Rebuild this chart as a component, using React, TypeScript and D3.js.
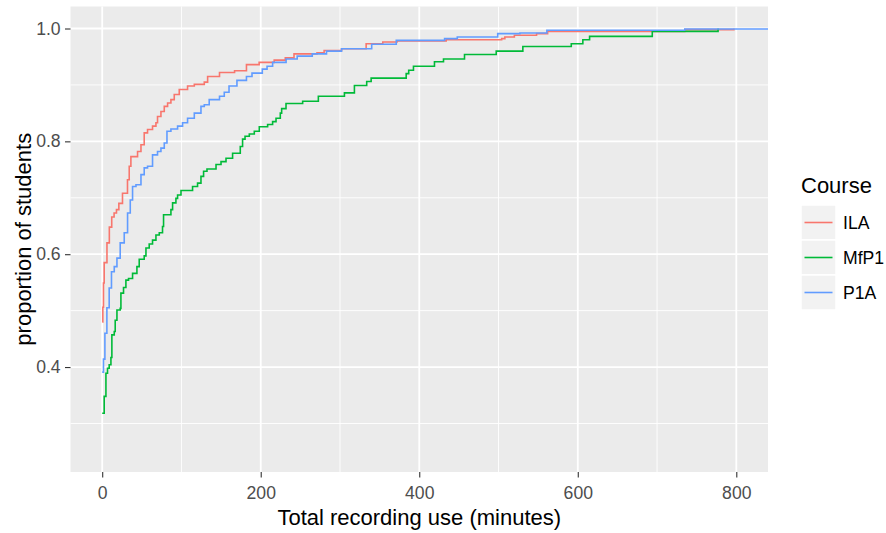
import { useEffect, useRef } from "react";
import * as d3 from "d3";

// ECDF step points: [minutes, proportion]
const courses = ["ILA", "MfP1", "P1A"];

const ilaSteps: [number, number][] = [
  [0, 0.48], [0.8, 0.506], [1.6, 0.549], [2.5, 0.585], [6, 0.62], [9, 0.648], [12, 0.666],
  [15, 0.673], [18, 0.679], [21, 0.69], [25.6, 0.708], [31.9, 0.732], [34.1, 0.756], [36.2, 0.773],
  [44.6, 0.782], [48.9, 0.794], [53, 0.815], [57.2, 0.821], [63.5, 0.827], [67.8, 0.833],
  [69.8, 0.844], [74.1, 0.853], [78.3, 0.862], [82.5, 0.868], [86.7, 0.874], [90.9, 0.883],
  [97.2, 0.892], [107.7, 0.898], [116.2, 0.901], [128.8, 0.905], [133, 0.915], [148, 0.922],
  [167, 0.925], [182, 0.936], [198, 0.94], [217, 0.944], [231, 0.948], [242, 0.955], [271, 0.957],
  [280, 0.961], [302, 0.964], [333, 0.973], [354, 0.976], [372, 0.978], [434, 0.98], [504, 0.982],
  [508, 0.985], [520, 0.988], [548, 0.991], [562, 0.995], [735, 0.998], [797, 1.0],
];

const mfp1Steps: [number, number][] = [
  [0, 0.318], [2.5, 0.348], [4.7, 0.389], [6.7, 0.398], [8.8, 0.404], [11, 0.417], [12.2, 0.457],
  [15.2, 0.463], [16.4, 0.483], [18.6, 0.501], [22.7, 0.504], [23.6, 0.531], [26.9, 0.541],
  [29.9, 0.554], [33.2, 0.557], [38.3, 0.566], [43.8, 0.578], [46.7, 0.591], [53, 0.597],
  [55.2, 0.611], [59.3, 0.618], [63.5, 0.625], [67.8, 0.634], [72, 0.638], [76.1, 0.649],
  [77.4, 0.67], [86.7, 0.679], [88.8, 0.691], [93, 0.699], [95.1, 0.705], [99.4, 0.713],
  [114, 0.72], [120.3, 0.726], [124.6, 0.738], [127.9, 0.747], [132.2, 0.751], [143.6, 0.759],
  [149.9, 0.764], [156.2, 0.77], [164.5, 0.779], [174.2, 0.791], [177.1, 0.804], [180.2, 0.809],
  [185.6, 0.813], [191.9, 0.818], [198.2, 0.826], [208.7, 0.83], [215, 0.835], [219.3, 0.841],
  [224.7, 0.85], [226.4, 0.858], [231.9, 0.867], [252.9, 0.871], [272.7, 0.88], [305.6, 0.886],
  [318.2, 0.899], [333.7, 0.906], [339.3, 0.912], [383.5, 0.92], [386.7, 0.926], [392.7, 0.933],
  [419.2, 0.941], [430.6, 0.946], [457.1, 0.954], [497.1, 0.96], [530.7, 0.968], [591.8, 0.973],
  [606.4, 0.98], [614.9, 0.986], [694, 0.995], [777, 1.0],
];

const p1aSteps: [number, number][] = [
  [0, 0.391], [1.6, 0.414], [3.4, 0.46], [5.9, 0.505], [8.8, 0.54], [11.7, 0.569], [15.2, 0.578],
  [18.6, 0.593], [22.7, 0.62], [27.8, 0.638], [32, 0.673], [35.4, 0.696], [38.3, 0.72],
  [42.6, 0.723], [48.9, 0.741], [53, 0.753], [57.2, 0.756], [63.5, 0.776], [69.8, 0.782],
  [74.1, 0.788], [78.3, 0.797], [81.7, 0.818], [86.7, 0.822], [95.1, 0.827], [101.4, 0.833],
  [107.7, 0.841], [116.2, 0.85], [124.6, 0.862], [128.8, 0.865], [135, 0.874], [148, 0.88],
  [154, 0.887], [160, 0.898], [170, 0.908], [182, 0.915], [189, 0.921], [202, 0.928], [208, 0.933],
  [215, 0.94], [232, 0.946], [246, 0.951], [265, 0.955], [283, 0.96], [302, 0.964], [340, 0.972],
  [371, 0.979], [432, 0.982], [448, 0.985], [499, 0.991], [527, 0.992], [561, 0.997], [735, 0.999],
  [860, 1.0],
];

const xTicks = [0, 200, 400, 600, 800];
const xMinor = [100, 300, 500, 700];
const yTicks = [0.4, 0.6, 0.8, 1.0];
const yMinor = [0.3, 0.5, 0.7, 0.9];

export default function App() {
  const svgRef = useRef<SVGSVGElement | null>(null);

  useEffect(() => {
    if (!svgRef.current) return;
    const width = 886;
    const height = 533;
    const panel = { left: 70.5, right: 768, top: 6.5, bottom: 472 };
    const font = "'Liberation Sans', Arial, sans-serif";
    const colors = d3.scaleOrdinal<string, string>().domain(courses).range(["#F8766D", "#00BA38", "#619CFF"]);
    const series = [ilaSteps, mfp1Steps, p1aSteps];

    const svg = d3.select(svgRef.current).attr("width", width).attr("height", height);
    svg.selectAll("*").remove();

    const x = d3.scaleLinear().domain([-40, 840]).range([panel.left, panel.right]);
    const y = d3.scaleLinear().domain([0.214, 1.039]).range([panel.bottom, panel.top]);

    svg.append("rect")
      .attr("x", panel.left).attr("y", panel.top)
      .attr("width", panel.right - panel.left).attr("height", panel.bottom - panel.top)
      .attr("fill", "#EBEBEB");

    svg.append("clipPath").attr("id", "panel-clip")
      .append("rect")
      .attr("x", panel.left).attr("y", panel.top)
      .attr("width", panel.right - panel.left).attr("height", panel.bottom - panel.top);

    const grid = svg.append("g");
    grid.selectAll(".xminor").data(xMinor).join("line")
      .attr("x1", d => x(d)).attr("x2", d => x(d)).attr("y1", panel.top).attr("y2", panel.bottom)
      .attr("stroke", "white").attr("stroke-width", 0.9);
    grid.selectAll(".yminor").data(yMinor).join("line")
      .attr("y1", d => y(d)).attr("y2", d => y(d)).attr("x1", panel.left).attr("x2", panel.right)
      .attr("stroke", "white").attr("stroke-width", 0.9);
    grid.selectAll(".xmajor").data(xTicks).join("line")
      .attr("x1", d => x(d)).attr("x2", d => x(d)).attr("y1", panel.top).attr("y2", panel.bottom)
      .attr("stroke", "white").attr("stroke-width", 1.8);
    grid.selectAll(".ymajor").data(yTicks).join("line")
      .attr("y1", d => y(d)).attr("y2", d => y(d)).attr("x1", panel.left).attr("x2", panel.right)
      .attr("stroke", "white").attr("stroke-width", 1.8);

    const line = d3.line<[number, number]>()
      .x(d => x(d[0]))
      .y(d => y(d[1]))
      .curve(d3.curveStepAfter);

    svg.append("g").attr("clip-path", "url(#panel-clip)")
      .selectAll("path").data(series).join("path")
      .attr("d", d => line(d))
      .attr("fill", "none")
      .attr("stroke", (_, i) => colors(courses[i]))
      .attr("stroke-width", 1.6);

    // axes
    const xAxis = svg.append("g")
      .attr("transform", `translate(0,${panel.bottom})`)
      .call(d3.axisBottom(x).tickValues(xTicks).tickSize(5.5).tickPadding(9.5));
    xAxis.select(".domain").remove();
    xAxis.selectAll("line").attr("stroke", "#333333").attr("stroke-width", 1.1);
    xAxis.selectAll("text")
      .attr("fill", "#4D4D4D").style("font-size", "17.6px").style("font-family", font);

    const yAxis = svg.append("g")
      .attr("transform", `translate(${panel.left},0)`)
      .call(d3.axisLeft(y).tickValues(yTicks).tickFormat(d3.format(".1f")).tickSize(5.5).tickPadding(4.4));
    yAxis.select(".domain").remove();
    yAxis.selectAll("line").attr("stroke", "#333333").attr("stroke-width", 1.1);
    yAxis.selectAll("text")
      .attr("fill", "#4D4D4D").style("font-size", "17.6px").style("font-family", font);

    svg.append("text")
      .attr("x", (panel.left + panel.right) / 2).attr("y", 525)
      .attr("text-anchor", "middle")
      .style("font-size", "22px").style("font-family", font)
      .text("Total recording use (minutes)");

    svg.append("text")
      .attr("transform", `translate(31,${(panel.top + panel.bottom) / 2}) rotate(-90)`)
      .attr("text-anchor", "middle")
      .style("font-size", "22px").style("font-family", font)
      .text("proportion of students");

    // Legend
    const legend = svg.append("g").attr("transform", "translate(801,0)");
    legend.append("text").attr("x", 0).attr("y", 193)
      .style("font-size", "22px").style("font-family", font).text("Course");
    const keySize = 35;
    const keys = legend.selectAll("g.key").data(courses).join("g")
      .attr("class", "key")
      .attr("transform", (_, i) => `translate(0,${205 + i * keySize})`);
    keys.append("rect").attr("width", keySize).attr("height", keySize)
      .attr("fill", "#F2F2F2").attr("stroke", "white").attr("stroke-width", 1.5);
    keys.append("line")
      .attr("x1", 3.5).attr("x2", keySize - 3.5)
      .attr("y1", keySize / 2).attr("y2", keySize / 2)
      .attr("stroke", d => colors(d)).attr("stroke-width", 1.6);
    keys.append("text")
      .attr("x", keySize + 7).attr("y", keySize / 2).attr("dy", "0.36em")
      .style("font-size", "17.6px").style("font-family", font)
      .text(d => d);
  }, []);

  return <svg ref={svgRef} style={{ position: "absolute", left: 0, top: 0 }}></svg>;
}
